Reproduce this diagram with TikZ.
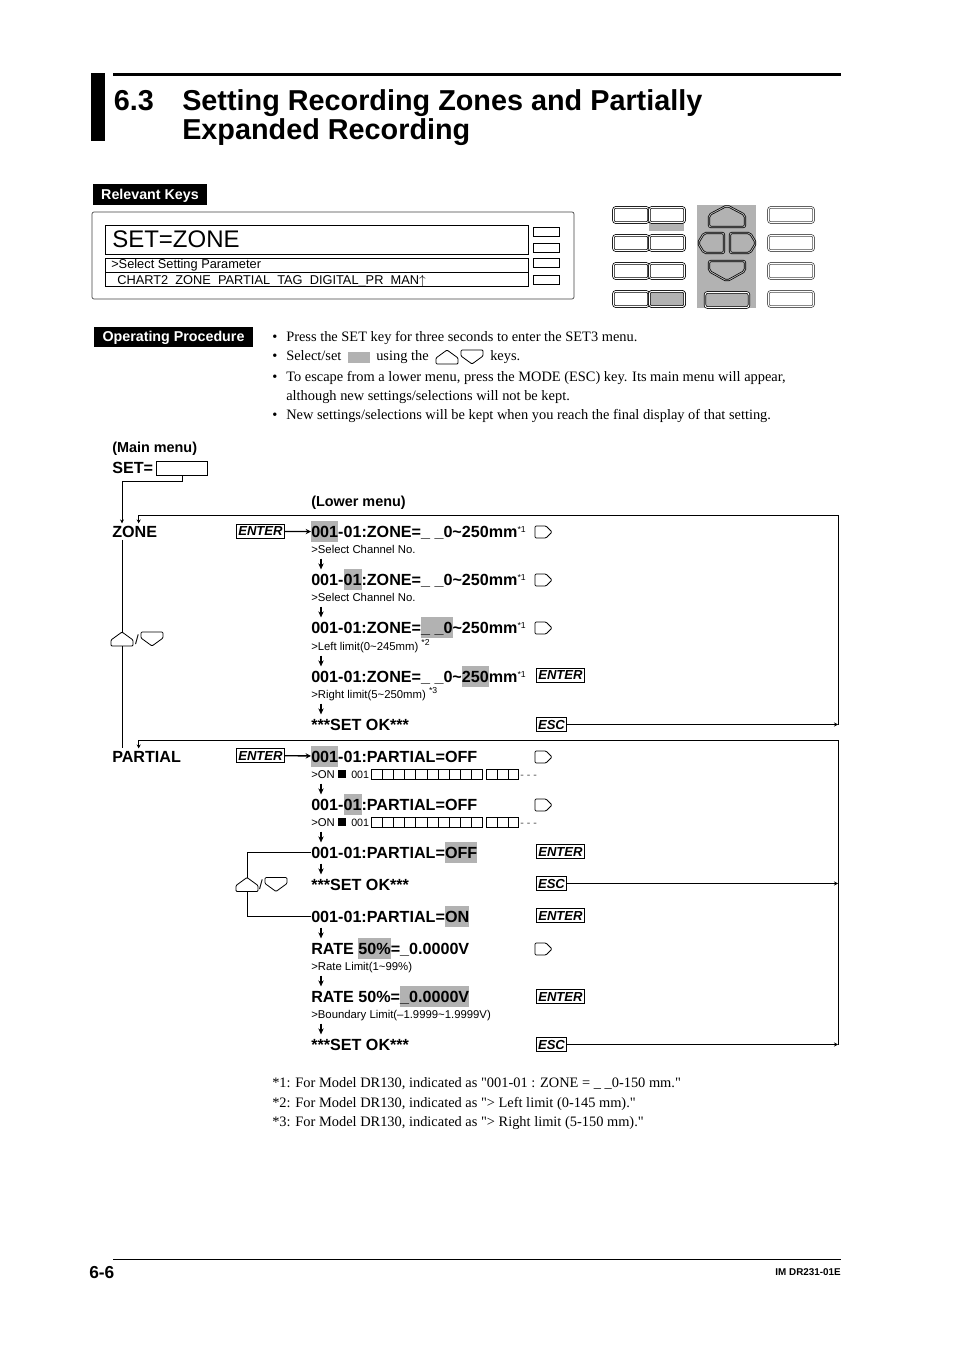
\documentclass[tikz,border=0pt]{standalone}
\usepackage{fontspec}
\setmainfont{Liberation Serif}
\setsansfont{Liberation Sans}
\definecolor{keygray}{RGB}{178,178,178}
\usetikzlibrary{arrows.meta,positioning}
\newcommand{\hlbox}[1]{\smash{\setlength{\fboxsep}{0pt}\colorbox{keygray}{\rule[-3.75pt]{0pt}{15.75pt}#1}}}
\newcommand{\fnmark}[1]{\raisebox{3.6pt}{\fontsize{6.5}{7}\mdseries\selectfont *#1}}
\newcommand{\cellrow}[1]{
  \foreach \i in {0,...,9} \draw[cellbox] (371.5+\i*11.1,#1) rectangle ++(11.1,10);
  \foreach \i in {0,1,2} \draw[cellbox] (486.5+\i*10.8,#1) rectangle ++(10.8,10);
}
\begin{document}
\begin{tikzpicture}[
  x=0.75pt,y=-0.75pt,
  banner/.style={fill=black,text=white,inner sep=0pt,text height=7.8pt,text depth=1pt,font=\sffamily\bfseries\fontsize{10.7}{12}\selectfont},
  title/.style={anchor=base west,inner sep=0pt,font=\sffamily\bfseries\fontsize{21.6}{24}\selectfont},
  lcd/.style={draw,line width=.7pt,inner sep=0pt},
  lcdtext/.style={anchor=base west,inner sep=0pt,font=\sffamily\fontsize{9.6}{11}\selectfont},
  lamp/.style={draw,line width=.6pt,inner sep=0pt,minimum width=19.5pt,minimum height=6.8pt},
  keycap/.style={draw=black,double=white,double distance=.7pt,line width=.55pt,rounded corners=2pt,inner sep=0pt,minimum width=26.5pt,minimum height=11.5pt},
  widecap/.style={keycap,draw=black!70,minimum width=34pt},
  padkey/.style={draw=black,double=keygray,double distance=.6pt,line width=.55pt,rounded corners=1.5pt},
  bodytext/.style={anchor=base west,inner sep=0pt,font=\fontsize{10.8}{12}\selectfont},
  menuhead/.style={anchor=base west,inner sep=0pt,font=\sffamily\bfseries\fontsize{10.8}{12}\selectfont},
  menu/.style={anchor=base west,inner sep=0pt,text height=10pt,text depth=2pt,font=\sffamily\bfseries\fontsize{12.1}{14}\selectfont},
  hint/.style={anchor=base west,inner sep=0pt,text height=7pt,text depth=2pt,font=\sffamily\fontsize{8.5}{10}\selectfont},
  keylabel/.style={anchor=west,draw,line width=.7pt,inner sep=0pt,minimum height=11pt,font=\sffamily\bfseries\itshape\fontsize{9.8}{11}\selectfont},
  enterkey/.style={keylabel,minimum width=36pt},
  esckey/.style={keylabel,minimum width=22.5pt},
  flow/.style={line width=.75pt},
  flowtip/.style={flow,-{Stealth[length=3pt,width=3pt]}},
  enterflow/.style={line width=1pt,-{Stealth[length=4pt,width=4pt]}},
  stepflow/.style={line width=1pt,shorten <=2pt,shorten >=1.5pt,-{Stealth[length=4.5pt,width=4pt]}},
  cellbox/.style={draw,line width=.75pt},
  keyline/.style={draw,line width=.6pt,rounded corners=.8pt},
  upkey/.pic={\draw[keyline] (0,14) -- (0,8) -- (11,0) -- (22,8) -- (22,14) -- cycle;},
  downkey/.pic={\draw[keyline] (0,0) -- (22,0) -- (22,6) -- (11,14) -- (0,6) -- cycle;},
  rightkey/.pic={\draw[keyline] (0,0) -- (11,0) -- (17,6) -- (11,12) -- (0,12) -- cycle;}
]
\useasboundingbox (0,0) rectangle (954,1351);

\fill (91,73) rectangle (105,141);
\fill (113,73) rectangle (841,76);
\node[title] (secnum) at (113.5,111) {6.3};
\node[title] (titleone) at (182,111) {Setting Recording Zones and Partially};
\node[title] (titletwo) at (182,140) {Expanded Recording};

\node[banner,minimum width=85.5pt,minimum height=15.5pt] (relkeys) at (150,194.5) {Relevant Keys};
\draw[draw=black!75,line width=.5pt,rounded corners=1.5pt] (92,212) rectangle (574,299);
\node[lcd,anchor=north west,minimum width=317pt,minimum height=22pt] (lcdtop) at (105,225) {};
\node[lcd,anchor=north west,minimum width=317pt,minimum height=10.5pt] (lcdmid) at (105,258) {};
\node[lcd,anchor=north west,minimum width=317pt,minimum height=10.5pt] (lcdlow) at (105,272.5) {};
\node[anchor=base west,inner sep=0pt,font=\sffamily\fontsize{18}{20}\selectfont] (lcdset) at (112,248) {SET=ZONE};
\node[lcdtext] (lcdhint) at (111,268.5) {>Select Setting Parameter};
\node[lcdtext] (lcdopts) at (117,284.5) {CHART2\ \ ZONE\ \ PARTIAL\ \ TAG\ \ DIGITAL\_PR\ \ MAN$\uparrow$};
\foreach \n/\y in {a/231.5,b/247.5,c/263,d/279.5} \node[lamp] (lamp\n) at (546,\y) {};

\fill[keygray] (649,223) rectangle (684,231);
\fill[keygray] (697,205) rectangle (756,308);
\foreach \n/\y in {a/215,b/243,c/271,d/299} {
  \node[keycap] (keyl\n) at (631,\y) {};
  \node[keycap] (keym\n) at (667,\y) {};
  \node[widecap] (keyr\n) at (791,\y) {};
}
\node[keycap,fill=keygray] (keymd2) at (667,299) {};
\node[keycap,fill=keygray,minimum width=33pt] (keyenter) at (727,300) {};
\draw[padkey] (709,227) -- (709,215) -- (727,205.5) -- (745,215) -- (745,227) -- cycle;
\draw[padkey] (709,261) -- (745,261) -- (745,271) -- (727,281) -- (709,271) -- cycle;
\draw[padkey] (724,233) -- (704,233) -- (698,243) -- (704,253) -- (724,253) -- cycle;
\draw[padkey] (730,233) -- (750,233) -- (756,243) -- (750,253) -- (730,253) -- cycle;

\node[banner,minimum width=119pt,minimum height=15pt] (opproc) at (173.5,337) {Operating Procedure};
\node[bodytext] (bulone) at (272,341.5) {•};
\node[bodytext] (txtone) at (286,341.5) {Press the SET key for three seconds to enter the SET3 menu.};
\node[bodytext] (bultwo) at (272,360.5) {•};
\node[bodytext] (txttwo) at (286,360.5) {Select/set};
\fill[keygray] (348,352) rectangle (370,363);
\node[bodytext] (txtusing) at (376,360.5) {using the};
\pic at (436,350) {upkey};
\pic at (461,350) {downkey};
\node[bodytext] (txtkeys) at (490,360.5) {keys.};
\node[bodytext] (bulthree) at (272,381.5) {•};
\node[bodytext] (txtthree) at (286,381.5) {To escape from a lower menu, press the MODE (ESC) key. Its main menu will appear,};
\node[bodytext] (txtfour) at (286,400.5) {although new settings/selections will not be kept.};
\node[bodytext] (bulfour) at (272,419.5) {•};
\node[bodytext] (txtfive) at (286,419.5) {New settings/selections will be kept when you reach the final display of that setting.};

\node[menuhead] (mainhead) at (112,452) {(Main menu)};
\node[menu] (setlabel) at (112,473) {SET=};
\node[draw,line width=1pt,inner sep=0pt,minimum width=38.5pt,minimum height=10.5pt] (setbox) at (182,468.5) {};
\node[menuhead] (lowhead) at (311,506) {(Lower menu)};
\node[menu] (zone) at (112,537) {ZONE};
\node[menu] (partial) at (112,762) {PARTIAL};
\pic at (111,632) {upkey};
\node[anchor=center,inner sep=0pt,font=\sffamily\fontsize{10}{12}\selectfont] (zoneslash) at (137,640) {/};
\pic at (141,632) {downkey};
\coordinate (zonekeytop) at (122,632);
\coordinate (zonekeylow) at (122,646);

\node[enterkey] (enterz) at (236,531.5) {ENTER};
\node[menu] (zone1) at (311,537) {\hlbox{001}-01:ZONE=\_ \_0\textasciitilde250mm\fnmark{1}};
\node[hint] (zonehint1) at (311,553) {>Select Channel No.};
\node[menu] (zone2) at (311,585) {001-\hlbox{01}:ZONE=\_ \_0\textasciitilde250mm\fnmark{1}};
\node[hint] (zonehint2) at (311,601) {>Select Channel No.};
\node[menu] (zone3) at (311,633) {001-01:ZONE=\hlbox{\_ \_0}\textasciitilde250mm\fnmark{1}};
\node[hint] (zonehint3) at (311,650) {>Left limit(0\textasciitilde245mm) \fnmark{2}};
\node[menu] (zone4) at (311,682) {001-01:ZONE=\_ \_0\textasciitilde\hlbox{250}mm\fnmark{1}};
\node[hint] (zonehint4) at (311,698) {>Right limit(5\textasciitilde250mm) \fnmark{3}};
\node[menu] (zoneok) at (311,730) {***SET OK***};
\foreach \y in {526,574,622} \pic at (535,\y) {rightkey};
\node[enterkey] (enterz4) at (536,675.5) {ENTER};
\node[esckey] (escz) at (536,724.5) {ESC};

\node[enterkey] (enterp) at (236,755.5) {ENTER};
\node[menu] (part1) at (311,762) {\hlbox{001}-01:PARTIAL=OFF};
\node[hint] (parthint1) at (311,778) {>ON};
\node[menu] (part2) at (311,810) {001-\hlbox{01}:PARTIAL=OFF};
\node[hint] (parthint2) at (311,826) {>ON};
\node[menu] (part3) at (311,858) {001-01:PARTIAL=\hlbox{OFF}};
\node[menu] (partok) at (311,890) {***SET OK***};
\node[menu] (part4) at (311,922) {001-01:PARTIAL=\hlbox{ON}};
\node[menu] (rate1) at (311,954) {RATE \hlbox{50\%}=\_0.0000V};
\node[hint] (ratehint1) at (311,970) {>Rate Limit(1\textasciitilde99\%)};
\node[menu] (rate2) at (311,1002) {RATE 50\%=\hlbox{\_0.0000V}};
\node[hint] (ratehint2) at (311,1018) {>Boundary Limit(--1.9999\textasciitilde1.9999V)};
\node[menu] (rateok) at (311,1050) {***SET OK***};
\foreach \y in {751,799,943} \pic at (535,\y) {rightkey};
\node[enterkey] (enterp3) at (536,851.5) {ENTER};
\node[esckey] (escp) at (536,883.5) {ESC};
\node[enterkey] (enterp4) at (536,915.5) {ENTER};
\node[enterkey] (enterr) at (536,996.5) {ENTER};
\node[esckey] (escr) at (536,1044.5) {ESC};

\foreach \y/\n in {769/a,817/b} {
  \fill (338,\y+1) rectangle ++(8,8);
  \node[hint,font=\sffamily\fontsize{8}{10}\selectfont] (cellnum\n) at (351,\y+9) {001};
  \cellrow{\y}
  \node[hint,font=\sffamily\fontsize{8}{10}\selectfont,text=black!70] (celldash\n) at (520,\y+9) {- - -};
}

\pic at (236,877.5) {upkey};
\node[anchor=center,inner sep=0pt,font=\sffamily\fontsize{10}{12}\selectfont] (partslash) at (261,885) {/};
\pic at (265,877.5) {downkey};
\coordinate (partkeytop) at (247,877.5);
\coordinate (partkeylow) at (247,891.5);
\coordinate (zoneedge) at (838,724.5);
\coordinate (zonecorner) at (838,515);
\coordinate (partedge) at (838,1044.5);
\coordinate (partmid) at (838,883.5);
\coordinate (partcorner) at (838,740);

\draw[flowtip] (setbox.south) -- ++(0,5) -| ([xshift=7.5pt]zone.north west);
\draw[flow] ([xshift=7.5pt]zone.south west) -- (zonekeytop);
\draw[flow] (zonekeylow) -- ([xshift=7.5pt]partial.north west);
\draw[enterflow] (enterz) -- (zone1);
\draw[enterflow] (enterp) -- (part1);
\foreach \a/\b in {zonehint1/zone2,zonehint2/zone3,zonehint3/zone4,zonehint4/zoneok,parthint1/part2,parthint2/part3,part3/partok,part4/rate1,ratehint1/rate2,ratehint2/rateok}
  \draw[stepflow] ([xshift=7.5pt]\a.south west) -- ([xshift=7.5pt]\b.north west);
\draw[flowtip] (escz) -- (zoneedge);
\draw[flowtip] (escp) -- (partmid);
\draw[flowtip] (escr) -- (partedge);
\draw[flowtip] (zoneedge) -- (zonecorner) -| ([xshift=20pt]zone.north west);
\draw[flowtip] (partedge) -- (partcorner) -| ([xshift=20pt]partial.north west);
\draw[flow] (part3) -| (partkeytop);
\draw[flow] (partkeylow) |- (part4);

\node[bodytext] (noteone) at (272,1087.5) {*1: For Model DR130, indicated as \textquotedbl 001-01 : ZONE = \_ \_0-150 mm.\textquotedbl};
\node[bodytext] (notetwo) at (272,1107.5) {*2: For Model DR130, indicated as \textquotedbl > Left limit (0-145 mm).\textquotedbl};
\node[bodytext] (notethree) at (272,1126.5) {*3: For Model DR130, indicated as \textquotedbl > Right limit (5-150 mm).\textquotedbl};

\draw[line width=.6pt] (113,1259) -- (841,1259);
\node[menu,font=\sffamily\bfseries\fontsize{13}{14}\selectfont] (pagenum) at (89,1278) {6-6};
\node[anchor=base east,inner sep=0pt,font=\sffamily\bfseries\fontsize{7.4}{8}\selectfont] (docnum) at (841,1275.5) {IM DR231-01E};
\end{tikzpicture}
\end{document}
